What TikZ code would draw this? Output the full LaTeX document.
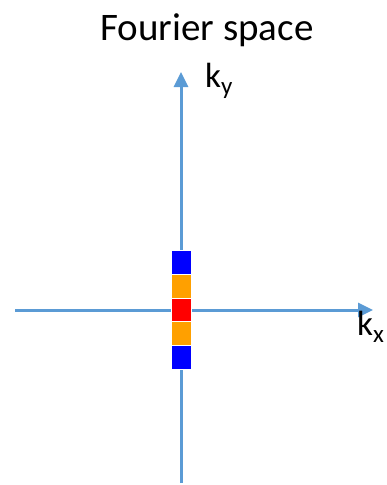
\documentclass[tikz,border=0pt]{standalone}
\usepackage{fontspec}
\setmainfont{Carlito}
\usetikzlibrary{arrows.meta, positioning}
\definecolor{axisblue}{HTML}{5B9BD5}
\definecolor{barorange}{HTML}{FFA000}
\newcommand{\ksub}[1]{k\raisebox{-7pt}{\fontsize{25}{27}\selectfont #1}}

\begin{document}
\begin{tikzpicture}[x=1pt,y=-1pt,
  axis/.style={axisblue, line width=3pt, -{Triangle[length=15pt,width=14pt]}},
  klabel/.style={font=\fontsize{35}{37}\selectfont, anchor=base west, inner sep=0pt},
  cell/.style={draw=white, line width=0.6pt}]
\useasboundingbox (0,0) rectangle (387,485);

% title
\node[font=\fontsize{39}{41}\selectfont, anchor=base] (title) at (207,40) {Fourier space};

% axes
\coordinate (xstart) at (15,310);
\coordinate (xend) at (373,310);
\coordinate (ystart) at (181,483);
\coordinate (yend) at (181,72);
\draw[axis] (xstart) -- (xend);
\draw[axis] (ystart) -- (yend);

% axis labels
\node[klabel] (ky) at (205,87) {\ksub{y}};
\node[klabel] (kx) at (357,335) {\ksub{x}};

% coloured cells along k_y
\foreach \i/\col in {0/blue, 1/barorange, 2/red, 3/barorange, 4/blue} {
  \pgfmathsetmacro\ytop{250.5+\i*23.7}
  \fill[\col] (171,\ytop) rectangle +(20,23.7);
  \draw[cell] (171,\ytop) rectangle +(20,23.7);
}
\end{tikzpicture}
\end{document}
